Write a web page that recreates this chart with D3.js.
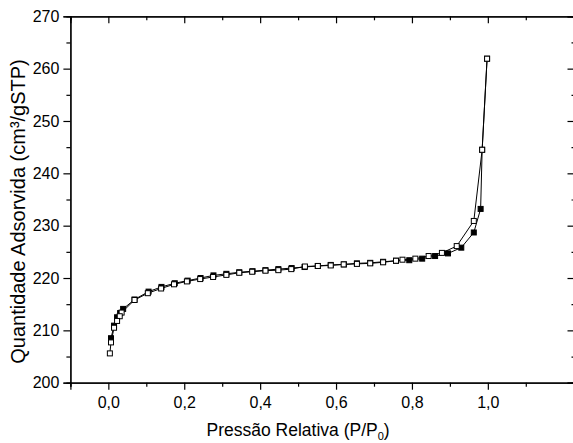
<!DOCTYPE html>
<html>
<head>
<meta charset="utf-8">
<script src="https://cdn.jsdelivr.net/npm/d3@7"></script>
<style>
  body { margin: 0; background: #fff; }
  text { font-family: Arial, "Liberation Sans", sans-serif; fill: #000; }
</style>
</head>
<body>
<div id="chart"></div>
<script>
// dimensions de la page
const width = 573, height = 443;

// branche d'adsorption (carrés pleins)
const adsP = [0.007, 0.015, 0.023, 0.031, 0.039, 0.069, 0.106, 0.140, 0.175, 0.209,
  0.243, 0.277, 0.311, 0.345, 0.380, 0.414, 0.448, 0.483, 0.517, 0.552, 0.586, 0.621,
  0.655, 0.690, 0.724, 0.758, 0.793, 0.827, 0.861, 0.895, 0.930, 0.963, 0.981, 0.985, 0.998];
const adsV = [208.5, 210.9, 212.5, 213.3, 214.1, 215.9, 217.4, 218.3, 219.0, 219.5,
  220.0, 220.5, 220.8, 221.1, 221.3, 221.5, 221.7, 221.9, 222.1, 222.3, 222.5, 222.6,
  222.8, 222.9, 223.1, 223.3, 223.4, 223.7, 224.2, 224.7, 225.8, 228.7, 233.2, 244.5, 261.9];

// branche de dessorption (carrés vides)
const desP = [0.998, 0.985, 0.963, 0.918, 0.879, 0.844, 0.809, 0.775, 0.758, 0.724,
  0.690, 0.655, 0.620, 0.586, 0.552, 0.518, 0.482, 0.448, 0.414, 0.379, 0.345, 0.311,
  0.276, 0.242, 0.207, 0.173, 0.139, 0.104, 0.069, 0.035, 0.030, 0.023, 0.015, 0.007, 0.004];
const desV = [261.9, 244.5, 230.9, 226.1, 224.8, 224.2, 223.7, 223.5, 223.3, 223.0,
  222.8, 222.7, 222.6, 222.4, 222.3, 222.2, 221.7, 221.5, 221.4, 221.2, 221.0, 220.6,
  220.2, 219.8, 219.35, 218.8, 218.0, 217.1, 215.8, 213.4, 212.7, 211.8, 210.5, 207.7, 205.6];

// graduations
const xTicks = [0, 0.2, 0.4, 0.6, 0.8, 1.0];
const xMinor = [-0.1, 0.1, 0.3, 0.5, 0.7, 0.9, 1.1];
const yTicks = [200, 210, 220, 230, 240, 250, 260, 270];
const yMinor = [205, 215, 225, 235, 245, 255, 265];

const fmt = d => d3.format(".1f")(d).replace(".", ",");

// le cadre de droite est coupé par le bord de l'image
const x = d3.scaleLinear().domain([-0.1, 1.231]).range([70.4, 575.5]);
const y = d3.scaleLinear().domain([200, 270]).range([382.7, 16.3]);

const svg = d3.select("#chart").append("svg")
    .attr("width", width)
    .attr("height", height);

// axes (style Origin : ticks dehors en bas/gauche, dedans en haut/droite)
const axBottom = svg.append("g").attr("transform", `translate(0,${y(200)})`);
axBottom.call(d3.axisBottom(x).tickValues(xTicks).tickSize(7).tickPadding(7).tickFormat(fmt));
axBottom.append("g").call(d3.axisBottom(x).tickValues(xMinor).tickSize(4).tickFormat(""));

const axTop = svg.append("g").attr("transform", `translate(0,${y(270)})`);
axTop.call(d3.axisBottom(x).tickValues(xTicks).tickSize(7).tickFormat(""));
axTop.append("g").call(d3.axisBottom(x).tickValues(xMinor).tickSize(4).tickFormat(""));

const axLeft = svg.append("g").attr("transform", `translate(${x(-0.1)},0)`);
axLeft.call(d3.axisLeft(y).tickValues(yTicks).tickSize(7).tickPadding(4).tickFormat(d3.format("d")));
axLeft.append("g").call(d3.axisLeft(y).tickValues(yMinor).tickSize(4).tickFormat(""));

const axRight = svg.append("g").attr("transform", `translate(${x(1.231)},0)`);
axRight.call(d3.axisLeft(y).tickValues(yTicks).tickSize(8).tickFormat(""));
axRight.append("g").call(d3.axisLeft(y).tickValues(yMinor).tickSize(4).tickFormat(""));

svg.selectAll(".domain").attr("stroke", "#000").attr("stroke-width", 1.2);
svg.selectAll(".tick line").attr("stroke", "#000").attr("stroke-width", 1.2);
svg.selectAll(".tick text").style("font-size", "16px").attr("fill", "#000");

// titres des axes
const xt = svg.append("text")
    .attr("x", (x(-0.1) + x(1.1)) / 2)
    .attr("y", 436)
    .attr("text-anchor", "middle")
    .style("font-size", "17.5px")
    .text("Pressão Relativa (P/P");
xt.append("tspan").attr("dy", 4).style("font-size", "11px").text("0");
xt.append("tspan").attr("dy", -4).text(")");

svg.append("text")
    .attr("transform", `translate(25,${(y(200) + y(270)) / 2 + 12}) rotate(-90)`)
    .attr("text-anchor", "middle")
    .style("font-size", "20px")
    .text("Quantidade Adsorvida (cm³/gSTP)");

// courbes
const line = d3.line().x(d => x(d[0])).y(d => y(d[1]));
const ads = adsP.map((p, i) => [p, adsV[i]]);
const des = desP.map((p, i) => [p, desV[i]]);

const plot = svg.append("g");
plot.append("path").datum(ads).attr("d", line)
    .attr("fill", "none").attr("stroke", "#000").attr("stroke-width", 1);
plot.append("path").datum(des).attr("d", line)
    .attr("fill", "none").attr("stroke", "#000").attr("stroke-width", 1);

const s = 5;
plot.selectAll("rect.ads").data(ads).enter().append("rect")
    .attr("class", "ads")
    .attr("x", d => x(d[0]) - s / 2).attr("y", d => y(d[1]) - s / 2)
    .attr("width", s).attr("height", s)
    .attr("fill", "#000").attr("stroke", "#000").attr("stroke-width", 1);
plot.selectAll("rect.des").data(des).enter().append("rect")
    .attr("class", "des")
    .attr("x", d => x(d[0]) - s / 2).attr("y", d => y(d[1]) - s / 2)
    .attr("width", s).attr("height", s)
    .attr("fill", "#fff").attr("stroke", "#000").attr("stroke-width", 1);
</script>
</body>
</html>
